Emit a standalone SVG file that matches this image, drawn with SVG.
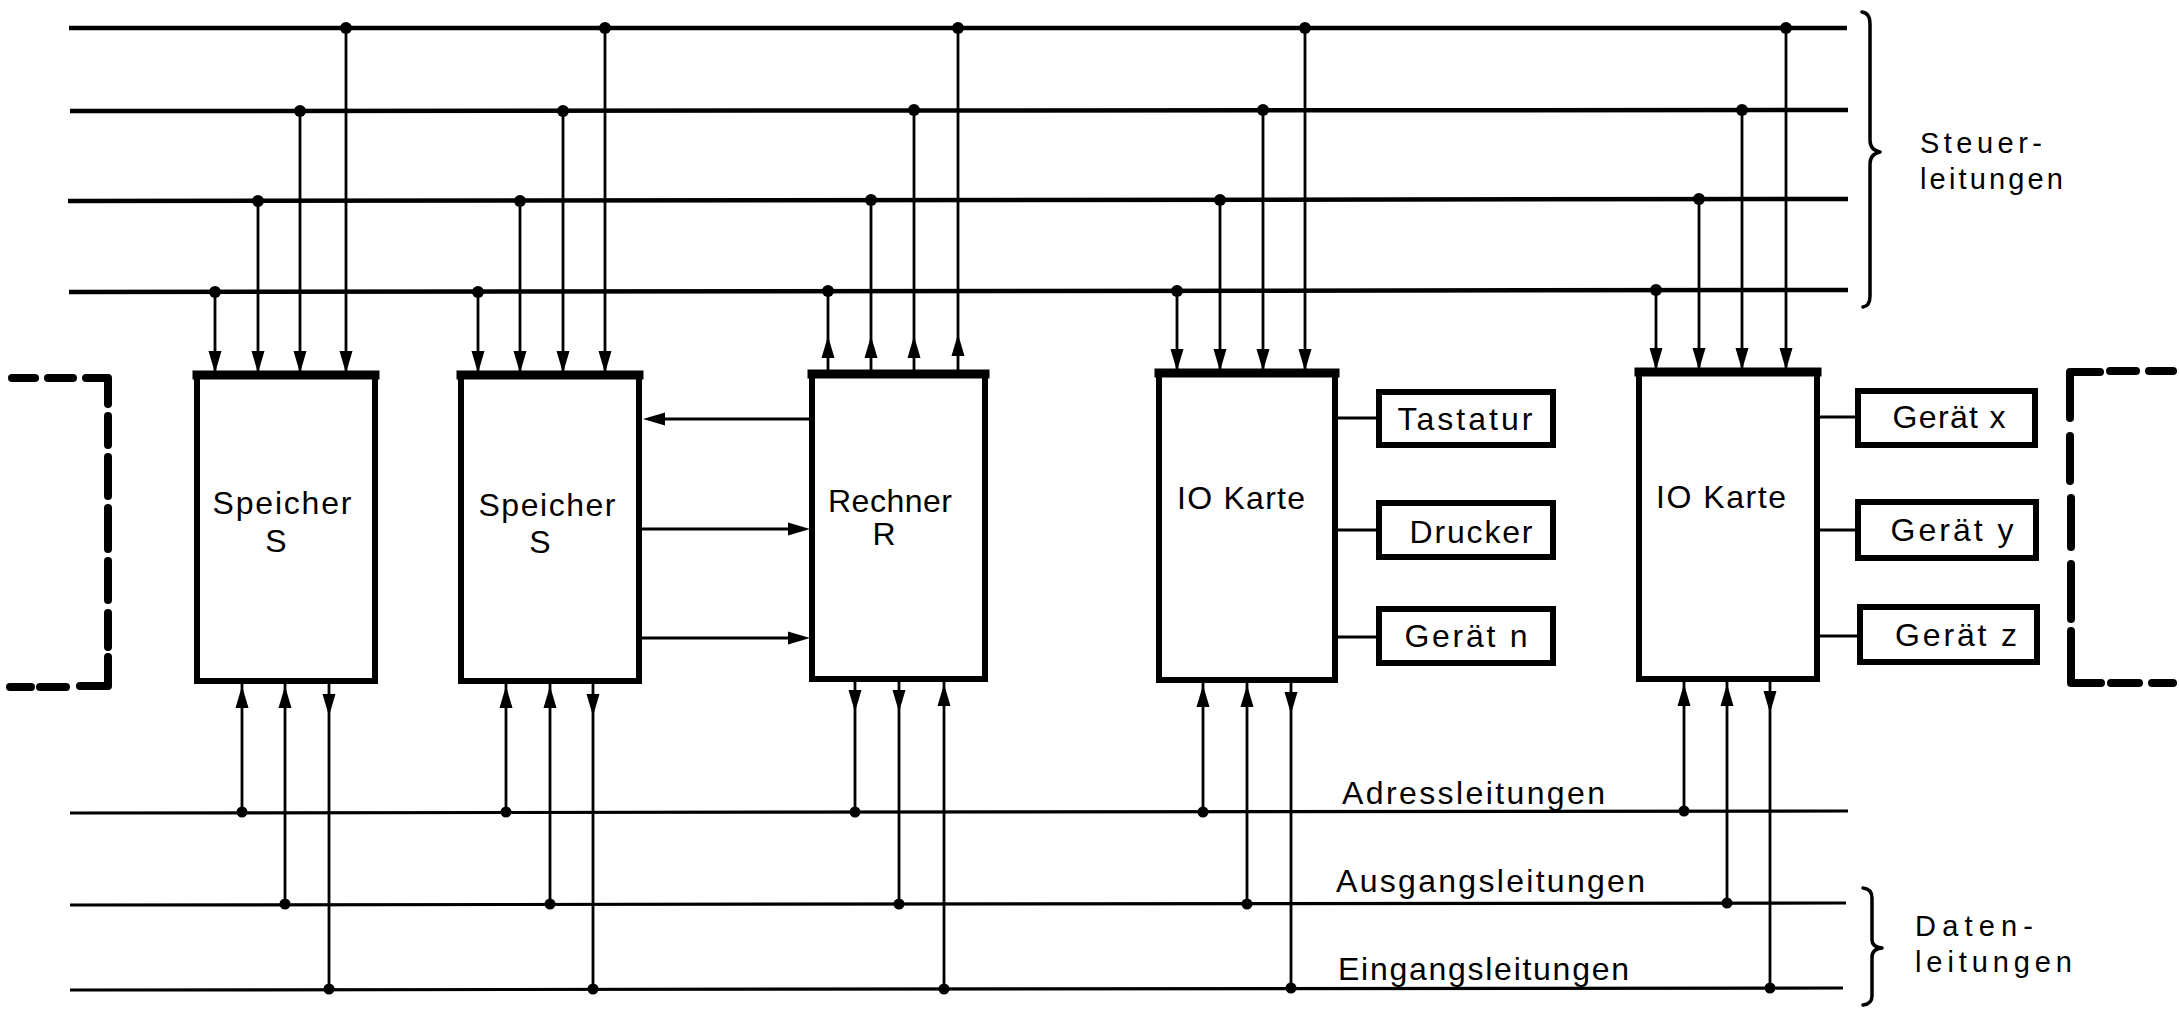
<svg xmlns="http://www.w3.org/2000/svg" xmlns:xlink="http://www.w3.org/1999/xlink" width="2179" height="1009" viewBox="0 0 2179 1009">
<style>
.bg{fill:#fff}
.bus{stroke:#000;stroke-width:4.5;fill:none;stroke-linecap:butt}
.bus2{stroke:#000;stroke-width:3.2;fill:none}
.tap{stroke:#000;stroke-width:2.8;fill:none}
.box{fill:#fff;stroke:#000;stroke-width:6}
.top{stroke:#000;stroke-width:9;stroke-linecap:square}
.dev{fill:#fff;stroke:#000;stroke-width:6}
.dot{fill:#000}
.ah{fill:#000}
.dash{stroke:#000;stroke-width:8;fill:none;stroke-linecap:round;stroke-linejoin:round}
.brace{stroke:#000;stroke-width:3.5;fill:none;stroke-linejoin:round;stroke-linecap:round}
.lbl{font-family:"Liberation Sans",Arial,sans-serif;font-size:32px;fill:#000}
.side{font-size:29px}
.c{text-anchor:middle}
</style>
<defs>
<path id="ad" class="ah" d="M0,0 L-6.5,-22 L6.5,-22 Z"/>
<path id="au" class="ah" d="M0,0 L-6.5,22 L6.5,22 Z"/>
<path id="al" class="ah" d="M0,0 L22,-6.5 L22,6.5 Z"/>
<path id="ar" class="ah" d="M0,0 L-22,-6.5 L-22,6.5 Z"/>
</defs>
<rect class="bg" x="0" y="0" width="2179" height="1009"/>

<g id="connectors">
  <!-- control buses -->
  <line class="bus" x1="69" y1="28" x2="1847" y2="28"/>
  <line class="bus" x1="70" y1="111" x2="1848" y2="110"/>
  <line class="bus" x1="68" y1="201" x2="1848" y2="199"/>
  <line class="bus" x1="69" y1="292" x2="1848" y2="290"/>
  <!-- data/address buses -->
  <line class="bus2" x1="70" y1="813" x2="1848" y2="811"/>
  <line class="bus2" x1="70" y1="905" x2="1846" y2="903"/>
  <line class="bus2" x1="70" y1="990" x2="1843" y2="988"/>

  <!-- Speicher 1 control taps -->
  <line class="tap" x1="215" y1="292" x2="215" y2="372"/>
  <line class="tap" x1="258" y1="201" x2="258" y2="372"/>
  <line class="tap" x1="300" y1="111" x2="300" y2="372"/>
  <line class="tap" x1="346" y1="28" x2="346" y2="372"/>
  <use xlink:href="#ad" x="215" y="373"/><use xlink:href="#ad" x="258" y="373"/><use xlink:href="#ad" x="300" y="373"/><use xlink:href="#ad" x="346" y="373"/>
  <circle class="dot" cx="215" cy="292" r="6"/><circle class="dot" cx="258" cy="201" r="6"/><circle class="dot" cx="300" cy="111" r="6"/><circle class="dot" cx="346" cy="28" r="6"/>

  <!-- Speicher 2 control taps -->
  <line class="tap" x1="478" y1="292" x2="478" y2="372"/>
  <line class="tap" x1="520" y1="201" x2="520" y2="372"/>
  <line class="tap" x1="563" y1="111" x2="563" y2="372"/>
  <line class="tap" x1="605" y1="28" x2="605" y2="372"/>
  <use xlink:href="#ad" x="478" y="373"/><use xlink:href="#ad" x="520" y="373"/><use xlink:href="#ad" x="563" y="373"/><use xlink:href="#ad" x="605" y="373"/>
  <circle class="dot" cx="478" cy="292" r="6"/><circle class="dot" cx="520" cy="201" r="6"/><circle class="dot" cx="563" cy="111" r="6"/><circle class="dot" cx="605" cy="28" r="6"/>

  <!-- Rechner control taps (outputs) -->
  <line class="tap" x1="828" y1="291" x2="828" y2="372"/>
  <line class="tap" x1="871" y1="200" x2="871" y2="372"/>
  <line class="tap" x1="914" y1="110" x2="914" y2="372"/>
  <line class="tap" x1="958" y1="28" x2="958" y2="372"/>
  <use xlink:href="#au" x="828" y="336"/><use xlink:href="#au" x="871" y="336"/><use xlink:href="#au" x="914" y="336"/><use xlink:href="#au" x="958" y="334"/>
  <circle class="dot" cx="828" cy="291" r="6"/><circle class="dot" cx="871" cy="200" r="6"/><circle class="dot" cx="914" cy="110" r="6"/><circle class="dot" cx="958" cy="28" r="6"/>

  <!-- IO Karte 1 control taps -->
  <line class="tap" x1="1177" y1="291" x2="1177" y2="370"/>
  <line class="tap" x1="1220" y1="200" x2="1220" y2="370"/>
  <line class="tap" x1="1263" y1="110" x2="1263" y2="370"/>
  <line class="tap" x1="1305" y1="28" x2="1305" y2="370"/>
  <use xlink:href="#ad" x="1177" y="371"/><use xlink:href="#ad" x="1220" y="371"/><use xlink:href="#ad" x="1263" y="371"/><use xlink:href="#ad" x="1305" y="371"/>
  <circle class="dot" cx="1177" cy="291" r="6"/><circle class="dot" cx="1220" cy="200" r="6"/><circle class="dot" cx="1263" cy="110" r="6"/><circle class="dot" cx="1305" cy="28" r="6"/>

  <!-- IO Karte 2 control taps -->
  <line class="tap" x1="1656" y1="290" x2="1656" y2="369"/>
  <line class="tap" x1="1699" y1="199" x2="1699" y2="369"/>
  <line class="tap" x1="1742" y1="110" x2="1742" y2="369"/>
  <line class="tap" x1="1786" y1="28" x2="1786" y2="369"/>
  <use xlink:href="#ad" x="1656" y="370"/><use xlink:href="#ad" x="1699" y="370"/><use xlink:href="#ad" x="1742" y="370"/><use xlink:href="#ad" x="1786" y="370"/>
  <circle class="dot" cx="1656" cy="290" r="6"/><circle class="dot" cx="1699" cy="199" r="6"/><circle class="dot" cx="1742" cy="110" r="6"/><circle class="dot" cx="1786" cy="28" r="6"/>

  <!-- Speicher 2 <-> Rechner -->
  <line class="tap" x1="812" y1="419" x2="660" y2="419"/>
  <use xlink:href="#al" x="643" y="419"/>
  <line class="tap" x1="639" y1="529" x2="792" y2="529"/>
  <use xlink:href="#ar" x="810" y="529"/>
  <line class="tap" x1="639" y1="638" x2="792" y2="638"/>
  <use xlink:href="#ar" x="810" y="638"/>

  <!-- bottom taps Speicher 1 -->
  <line class="tap" x1="242" y1="684" x2="242" y2="812"/>
  <line class="tap" x1="285" y1="684" x2="285" y2="904"/>
  <line class="tap" x1="329" y1="684" x2="329" y2="989"/>
  <use xlink:href="#au" x="242" y="686"/><use xlink:href="#au" x="285" y="686"/><use xlink:href="#ad" x="329" y="716"/>
  <circle class="dot" cx="242" cy="812" r="5.5"/><circle class="dot" cx="285" cy="904" r="5.5"/><circle class="dot" cx="329" cy="989" r="5.5"/>

  <!-- bottom taps Speicher 2 -->
  <line class="tap" x1="506" y1="684" x2="506" y2="812"/>
  <line class="tap" x1="550" y1="684" x2="550" y2="904"/>
  <line class="tap" x1="593" y1="684" x2="593" y2="989"/>
  <use xlink:href="#au" x="506" y="686"/><use xlink:href="#au" x="550" y="686"/><use xlink:href="#ad" x="593" y="716"/>
  <circle class="dot" cx="506" cy="812" r="5.5"/><circle class="dot" cx="550" cy="904" r="5.5"/><circle class="dot" cx="593" cy="989" r="5.5"/>

  <!-- bottom taps Rechner -->
  <line class="tap" x1="855" y1="682" x2="855" y2="812"/>
  <line class="tap" x1="899" y1="682" x2="899" y2="904"/>
  <line class="tap" x1="944" y1="682" x2="944" y2="989"/>
  <use xlink:href="#ad" x="855" y="712"/><use xlink:href="#ad" x="899" y="712"/><use xlink:href="#au" x="944" y="684"/>
  <circle class="dot" cx="855" cy="812" r="5.5"/><circle class="dot" cx="899" cy="904" r="5.5"/><circle class="dot" cx="944" cy="989" r="5.5"/>

  <!-- bottom taps IO Karte 1 -->
  <line class="tap" x1="1203" y1="683" x2="1203" y2="812"/>
  <line class="tap" x1="1247" y1="683" x2="1247" y2="904"/>
  <line class="tap" x1="1291" y1="683" x2="1291" y2="988"/>
  <use xlink:href="#au" x="1203" y="685"/><use xlink:href="#au" x="1247" y="685"/><use xlink:href="#ad" x="1291" y="714"/>
  <circle class="dot" cx="1203" cy="812" r="5.5"/><circle class="dot" cx="1247" cy="904" r="5.5"/><circle class="dot" cx="1291" cy="988" r="5.5"/>

  <!-- bottom taps IO Karte 2 -->
  <line class="tap" x1="1684" y1="682" x2="1684" y2="811"/>
  <line class="tap" x1="1727" y1="682" x2="1727" y2="903"/>
  <line class="tap" x1="1770" y1="682" x2="1770" y2="988"/>
  <use xlink:href="#au" x="1684" y="684"/><use xlink:href="#au" x="1727" y="684"/><use xlink:href="#ad" x="1770" y="713"/>
  <circle class="dot" cx="1684" cy="811" r="5.5"/><circle class="dot" cx="1727" cy="903" r="5.5"/><circle class="dot" cx="1770" cy="988" r="5.5"/>

  <!-- IO to devices -->
  <line class="tap" x1="1335" y1="418" x2="1379" y2="418"/>
  <line class="tap" x1="1335" y1="530" x2="1379" y2="530"/>
  <line class="tap" x1="1335" y1="637" x2="1379" y2="637"/>
  <line class="tap" x1="1817" y1="417" x2="1858" y2="417"/>
  <line class="tap" x1="1817" y1="530" x2="1858" y2="530"/>
  <line class="tap" x1="1817" y1="636" x2="1860" y2="636"/>
</g>

<g id="speicher1">
  <rect class="box" x="197" y="375" width="178" height="306"/>
  <line class="top" x1="197" y1="375" x2="375" y2="375"/>
  <text class="lbl c" x="282" y="514" textLength="139">Speicher</text>
  <text class="lbl c" x="276" y="552">S</text>
</g>
<g id="speicher2">
  <rect class="box" x="461" y="375" width="178" height="306"/>
  <line class="top" x1="461" y1="375" x2="639" y2="375"/>
  <text class="lbl c" x="547" y="516" textLength="137">Speicher</text>
  <text class="lbl c" x="540" y="553">S</text>
</g>
<g id="rechner">
  <rect class="box" x="812" y="374" width="173" height="305"/>
  <line class="top" x1="812" y1="374" x2="985" y2="374"/>
  <text class="lbl c" x="890" y="512" textLength="124">Rechner</text>
  <text class="lbl c" x="884" y="545">R</text>
</g>
<g id="iokarte1">
  <rect class="box" x="1159" y="373" width="176" height="307"/>
  <line class="top" x1="1159" y1="373" x2="1335" y2="373"/>
  <text class="lbl c" x="1241" y="509" textLength="128">IO Karte</text>
</g>
<g id="iokarte2">
  <rect class="box" x="1639" y="372" width="178" height="307"/>
  <line class="top" x1="1639" y1="372" x2="1817" y2="372"/>
  <text class="lbl c" x="1721" y="508" textLength="130">IO Karte</text>
</g>
<g id="tastatur">
  <rect class="dev" x="1379" y="392" width="174" height="53"/>
  <text class="lbl c" x="1465" y="430" textLength="135">Tastatur</text>
</g>
<g id="drucker">
  <rect class="dev" x="1379" y="503" width="174" height="54"/>
  <text class="lbl c" x="1471" y="543" textLength="123">Drucker</text>
</g>
<g id="geraet_n">
  <rect class="dev" x="1379" y="609" width="174" height="54"/>
  <text class="lbl c" x="1466" y="647" textLength="123">Gerät n</text>
</g>
<g id="geraet_x">
  <rect class="dev" x="1858" y="391" width="177" height="54"/>
  <text class="lbl c" x="1949" y="428" textLength="113">Gerät x</text>
</g>
<g id="geraet_y">
  <rect class="dev" x="1858" y="502" width="178" height="56"/>
  <text class="lbl c" x="1952" y="541" textLength="123">Gerät y</text>
</g>
<g id="geraet_z">
  <rect class="dev" x="1860" y="607" width="177" height="55"/>
  <text class="lbl c" x="1956" y="646" textLength="122">Gerät z</text>
</g>

<g id="bracket_left">
  <line class="dash" x1="12" y1="378" x2="35" y2="378"/>
  <line class="dash" x1="48" y1="378" x2="73" y2="378"/>
  <path class="dash" d="M86,378 H108 V404"/>
  <line class="dash" x1="108" y1="416" x2="108" y2="445"/>
  <line class="dash" x1="108" y1="457" x2="108" y2="496"/>
  <line class="dash" x1="108" y1="508" x2="108" y2="549"/>
  <line class="dash" x1="108" y1="561" x2="108" y2="600"/>
  <line class="dash" x1="108" y1="613" x2="108" y2="647"/>
  <path class="dash" d="M108,657 V686 H80"/>
  <line class="dash" x1="40" y1="687" x2="66" y2="687"/>
  <line class="dash" x1="10" y1="687" x2="31" y2="687"/>
</g>
<g id="bracket_right">
  <path class="dash" d="M2100,372 H2070 V418"/>
  <line class="dash" x1="2110" y1="371" x2="2136" y2="371"/>
  <line class="dash" x1="2149" y1="371" x2="2173" y2="371"/>
  <line class="dash" x1="2070" y1="436" x2="2070" y2="481"/>
  <line class="dash" x1="2071" y1="498" x2="2071" y2="547"/>
  <line class="dash" x1="2071" y1="564" x2="2071" y2="619"/>
  <path class="dash" d="M2071,631 V683 H2101"/>
  <line class="dash" x1="2111" y1="683" x2="2139" y2="683"/>
  <line class="dash" x1="2152" y1="683" x2="2173" y2="683"/>
</g>

<g id="steuerleitungen">
  <path class="brace" d="M1862,12 Q1870,13 1870,24 V140 Q1870,150 1880,152 Q1870,154 1870,164 V296 Q1870,306 1863,307"/>
  <text class="lbl side" x="1920" y="153" textLength="122">Steuer-</text>
  <text class="lbl side" x="1920" y="189" textLength="143">leitungen</text>
</g>
<g id="datenleitungen">
  <path class="brace" d="M1863,888 Q1872,889 1872,898 V940 Q1872,947 1882,948 Q1872,949 1872,957 V996 Q1872,1004 1863,1005"/>
  <text class="lbl side" x="1915" y="936" textLength="118">Daten-</text>
  <text class="lbl side" x="1915" y="972" textLength="157">leitungen</text>
</g>
<g id="bus_labels">
  <text class="lbl" x="1342" y="804" textLength="263">Adressleitungen</text>
  <text class="lbl" x="1336" y="892" textLength="309">Ausgangsleitungen</text>
  <text class="lbl" x="1338" y="980" textLength="291">Eingangsleitungen</text>
</g>
</svg>
